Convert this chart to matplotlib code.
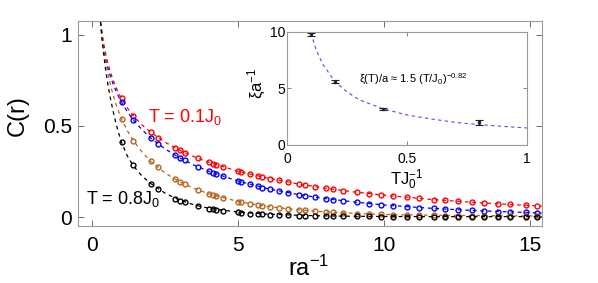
import matplotlib
matplotlib.use('Agg')
import matplotlib.pyplot as plt

plt.rcParams['font.family'] = ['Liberation Sans', 'DejaVu Sans']
plt.rcParams['mathtext.fontset'] = 'custom'
plt.rcParams['mathtext.rm'] = 'Liberation Sans'
plt.rcParams['mathtext.it'] = 'Liberation Sans'

# lattice distances r/a where C(r) was measured
r = [1, 1.41, 2, 2.24, 2.83, 3, 3.16, 3.61, 4, 4.12, 4.24, 4.47, 5, 5.1, 5.39, 5.66, 5.83, 6.08, 6.4, 6.71,
     7.07, 7.28, 7.62, 8, 8.25, 8.6, 9.06, 9.49, 9.9, 10.3, 10.77, 11.18, 11.7, 12.08, 12.53, 13, 13.42, 13.9,
     14.32, 14.87, 15.23]
c_01 = [651, 556, 465, 436, 380, 366, 354, 323, 300, 293, 287, 276, 251, 247, 236, 225, 219, 211, 201, 191,
        181, 176, 167, 158, 153, 145, 136, 128, 121, 115, 108, 102, 96, 91, 86, 81, 77, 72, 69, 64, 61]
c_02 = [631, 532, 434, 403, 340, 324, 311, 276, 250, 243, 236, 223, 197, 192, 180, 169, 162, 154, 143, 134,
        123, 118, 110, 101, 96, 89, 81, 74, 68, 62, 57, 52, 47, 43, 40, 36, 33, 30, 28, 25, 23]
c_04 = [540, 418, 306, 272, 207, 192, 180, 149, 127, 121, 115, 105, 85, 82, 73, 66, 62, 57, 50, 45,
        39, 36, 32, 28, 26, 23, 19, 17, 14, 12, 11, 10, 9, 8, 8, 7, 7, 6, 6, 6, 6]
c_08 = [410, 288, 182, 153, 101, 90, 81, 60, 46, 43, 40, 34, 25, 23, 19, 16, 15, 13, 10, 9,
        7, 6, 5, 4, 4, 3, 3, 3, 2, 2, 2, 2, 2, 2, 2, 2, 2, 2, 2, 2, 2]

# fitted curves
r_fit = [0.28, 0.33, 0.36, 0.4, 0.45, 0.5, 0.55, 0.6, 0.7, 0.8, 0.9, 1.0, 1.2, 1.4, 1.7, 2.0, 2.5, 3.0, 3.5,
         4.0, 5.0, 6.0, 7.0, 8.0, 9.0, 10.0, 11.5, 13.0, 14.5, 15.4]
f_01 = [1070, 1015, 983, 944, 903, 866, 835, 806, 757, 716, 681, 651, 599, 557, 506, 465, 410, 366, 330,
        300, 251, 214, 183, 158, 137, 120, 98, 81, 67, 60]
f_02 = [1070, 1000, 960, 915, 870, 837, 808, 782, 735, 696, 661, 631, 578, 534, 480, 434, 373, 324, 284,
        250, 197, 156, 125, 101, 82, 66, 49, 36, 27, 22]
f_04 = [1070, 1003, 962, 914, 862, 816, 775, 739, 677, 624, 579, 540, 474, 421, 357, 306, 241, 192, 156,
        127, 85, 58, 40, 28, 20, 14, 10, 8, 6, 6]
f_08 = [1070, 975, 935, 880, 815, 760, 712, 668, 590, 520, 462, 410, 335, 282, 225, 184, 130, 92, 66,
        48, 27, 16, 10, 6, 4, 3, 2, 2, 2, 2]

# inset: correlation length vs temperature
T = [0.1, 0.2, 0.4, 0.8]
xi = [9.8, 5.6, 3.2, 2.0]
xi_err = [0.15, 0.12, 0.1, 0.2]
T_fit = [0.1, 0.12, 0.15, 0.2, 0.25, 0.3, 0.4, 0.5, 0.6, 0.7, 0.8, 0.9, 1.0]
xi_fit = [9.9, 8.5, 7.1, 5.6, 4.7, 4.0, 3.2, 2.65, 2.3, 2.0, 1.8, 1.64, 1.5]

brown = '#b5651d'
series = [(c_01, f_01, 'red'), (c_02, f_02, 'blue'), (c_04, f_04, brown), (c_08, f_08, 'black')]

fig = plt.figure(figsize=(5.98, 2.83), dpi=100)
ax = fig.add_axes([0.130, 0.201, 0.776, 0.724])
for c, f, col in series:
    ax.plot(r_fit, [v / 1000 for v in f], '--', color=col, lw=0.9, dashes=(3, 3))
    ax.plot(r, [v / 1000 for v in c], 'o', mfc='none', mec=col, ms=3.5, mew=1.0)

ax.set_xlim(-0.5, 15.4)
ax.set_ylim(-0.05, 1.075)
ax.set_xticks([0, 5, 10, 15])
ax.set_yticks([0, 0.5, 1])
ax.set_yticklabels(['0', '0.5', '1'])
ax.tick_params(direction='in', top=True, right=True, labelsize=15, length=4, width=0.6,
               color='#555555')
ax.tick_params(axis='x', pad=7)
ax.tick_params(axis='y', pad=4)
for s in ax.spines.values():
    s.set_color('#999999')
    s.set_linewidth(0.8)
ax.set_ylabel('C(r)', fontsize=17)
ax.yaxis.set_label_coords(-0.106, 0.54)
ax.set_xlabel('ra$^{-1}$', fontsize=17)
ax.xaxis.set_label_coords(0.498, -0.205)
ax.xaxis.label.set_va('center')

ax.text(1.92, 0.55, 'T = 0.1J$_0$', color='red', fontsize=13, va='center', ha='left')
ax.text(-0.2, 0.10, 'T = 0.8J$_0$', color='black', fontsize=13, va='center', ha='left')

ins = fig.add_axes([0.480, 0.488, 0.401, 0.399])
ins.plot(T_fit, xi_fit, '--', color='#4d4dff', lw=0.8, dashes=(3, 3))
ins.errorbar(T, xi, yerr=xi_err, fmt='.', color='#222222', ms=3, capsize=3, elinewidth=0.8, capthick=0.8)
ins.set_xlim(0, 1)
ins.set_ylim(0, 10)
ins.set_xticks([0, 0.5, 1])
ins.set_xticklabels(['0', '0.5', '1'])
ins.set_yticks([0, 5, 10])
ins.tick_params(direction='in', top=True, right=True, labelsize=10, length=3, width=0.5,
                color='#555555')
ins.tick_params(axis='x', pad=5)
ins.tick_params(axis='y', pad=1)
for s in ins.spines.values():
    s.set_color('#999999')
    s.set_linewidth(0.8)
ins.set_xlabel('TJ$_0^{-1}$', fontsize=12)
ins.xaxis.set_label_coords(0.50, -0.31)
ins.xaxis.label.set_va('center')
ins.set_ylabel('ξa$^{-1}$', fontsize=12)
ins.yaxis.set_label_coords(-0.125, 0.55)
ins.yaxis.label.set_va('center')
ins.text(0.30, 5.9, 'ξ(T)/a ≈ 1.5 (T/J$_0$)$^{-0.82}$', fontsize=8, va='center', ha='left')

fig.savefig('out.png')
